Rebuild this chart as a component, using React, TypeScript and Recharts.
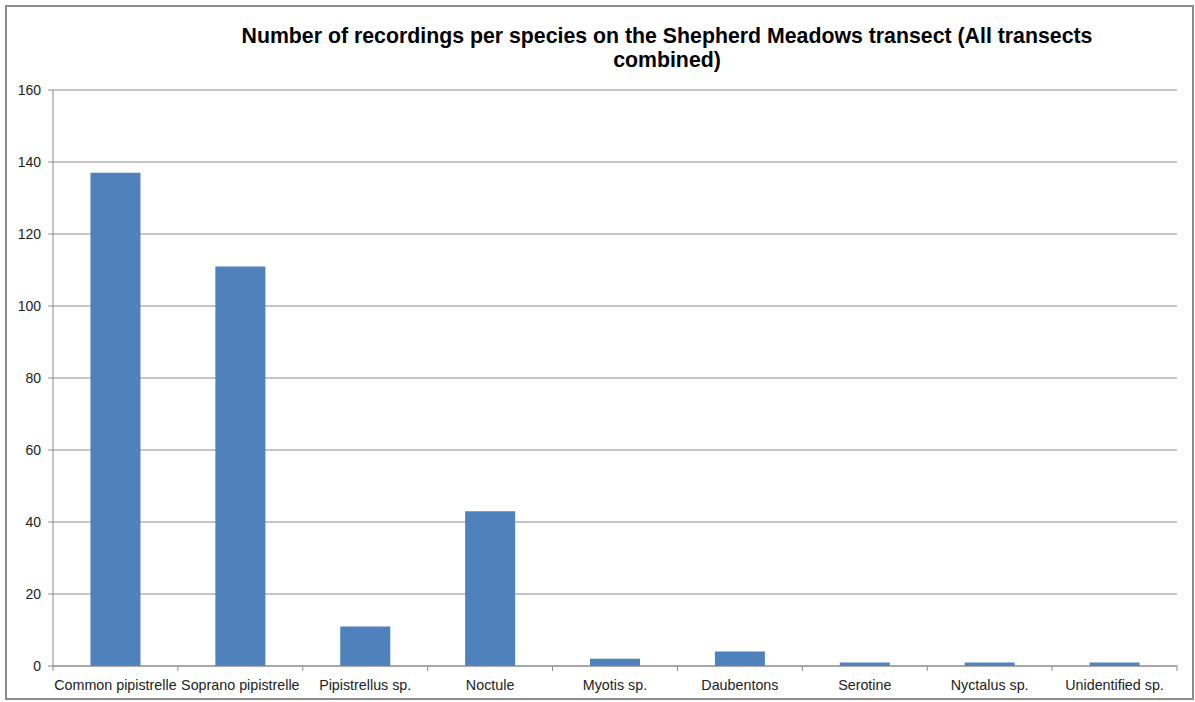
import React from 'react';
import { BarChart, Bar, XAxis, YAxis, CartesianGrid } from 'recharts';

const species = [
  'Common pipistrelle',
  'Soprano pipistrelle',
  'Pipistrellus sp.',
  'Noctule',
  'Myotis sp.',
  'Daubentons',
  'Serotine',
  'Nyctalus sp.',
  'Unidentified sp.',
];
const recordings = [137, 111, 11, 43, 2, 4, 1, 1, 1];
const yTicks = [0, 20, 40, 60, 80, 100, 120, 140, 160];
const edgeTicks = [0, 1, 2, 3, 4, 5, 6, 7, 8, 9];

const chartData = species.map((name, i) => ({ name, value: recordings[i], pos: i + 0.5 }));

const FONT = '"Liberation Sans", Arial, sans-serif';

export default function App() {
  return (
    <div style={{ position: 'absolute', left: 0, top: 0, width: 1195, height: 702, background: '#fff', fontFamily: FONT }}>
      <div
        style={{
          position: 'absolute',
          left: 5,
          top: 5,
          width: 1185,
          height: 691,
          border: '2px solid #8c8c8c',
        }}
      />
      <div
        style={{
          position: 'absolute',
          left: 227,
          width: 880,
          top: 24,
          textAlign: 'center',
          fontWeight: 'bold',
          fontSize: 21.3,
          lineHeight: '24px',
          color: '#000',
        }}
      >
        Number of recordings per species on the Shepherd Meadows transect (All transects combined)
      </div>
      <div style={{ position: 'absolute', left: 0, top: 0 }}>
        <BarChart
          width={1195}
          height={702}
          data={chartData}
          margin={{ top: 90, right: 18, left: 0, bottom: 6 }}
          barCategoryGap="30%"
        >
          <CartesianGrid horizontal vertical={false} stroke="#8a8a8a" />
          {/* boundary ticks between categories, like Excel */}
          <XAxis
            xAxisId="a_edge"
            type="number"
            dataKey="pos"
            domain={[0, 9]}
            ticks={edgeTicks}
            height={1}
            tickSize={5}
            tickFormatter={() => ''}
            axisLine={{ stroke: '#8a8a8a' }}
            tickLine={{ stroke: '#8a8a8a' }}
            allowDataOverflow
          />
          <XAxis
            xAxisId="b_cat"
            dataKey="name"
            height={29}
            interval={0}
            axisLine={false}
            tickLine={false}
            tickMargin={7}
            tick={{ fill: '#222', fontSize: 14.3, fontFamily: FONT }}
          />
          <YAxis
            domain={[0, 160]}
            ticks={yTicks}
            width={53}
            interval={0}
            tickSize={5}
            tickMargin={7}
            axisLine={{ stroke: '#8a8a8a' }}
            tickLine={{ stroke: '#8a8a8a' }}
            tick={{ fill: '#222', fontSize: 14, fontFamily: FONT }}
          />
          <Bar xAxisId="b_cat" dataKey="value" fill="#4F81BD" isAnimationActive={false} />
        </BarChart>
      </div>
    </div>
  );
}
